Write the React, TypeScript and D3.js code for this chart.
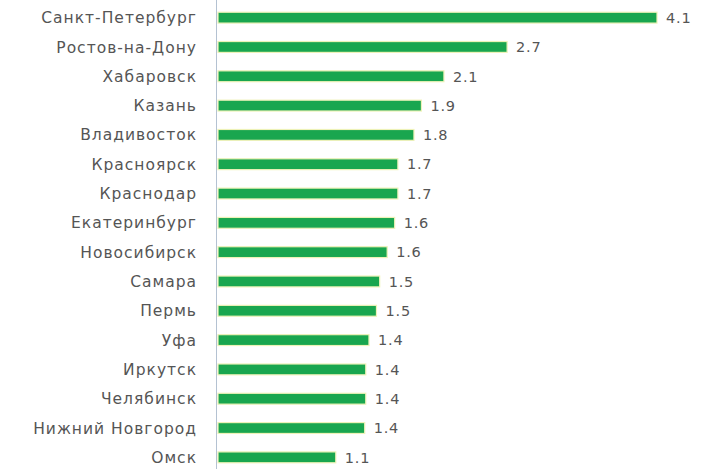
import React from 'react';
import * as d3 from 'd3';

const cities = [
  'Санкт-Петербург', 'Ростов-на-Дону', 'Хабаровск', 'Казань', 'Владивосток',
  'Красноярск', 'Краснодар', 'Екатеринбург', 'Новосибирск', 'Самара',
  'Пермь', 'Уфа', 'Иркутск', 'Челябинск', 'Нижний Новгород', 'Омск',
];
// bar lengths (labels show them rounded to one decimal)
const values = [4.1, 2.7, 2.11, 1.9, 1.83, 1.68, 1.68, 1.65, 1.58, 1.51, 1.48, 1.41, 1.38, 1.38, 1.37, 1.1];

const width = 715;
const height = 469;

const App = () => {
  const y = d3.scaleBand<string>()
    .domain(cities)
    .range([3, 472])
    .paddingInner(0.63)
    .paddingOuter(0.315);

  const x = d3.scaleLinear()
    .domain([0, 4.1])
    .range([218, 657]);

  const font = '"DejaVu Sans", "Liberation Sans", sans-serif';

  return (
    <svg width={width} height={height} style={{ position: 'absolute', left: 0, top: 0, background: '#fff' }}>
      <line x1={216.5} x2={216.5} y1={0} y2={height} stroke="#b4c2d2" strokeWidth={1} />
      {cities.map((c, i) => {
        const yy = y(c)!;
        const bw = y.bandwidth();
        const v = values[i];
        return (
          <g key={c}>
            <rect x={x(0)} y={yy} width={x(v) - x(0)} height={bw}
              fill="#19a64f" stroke="#eef2b8" strokeWidth={1.2} />
            <text x={197} y={yy + bw / 2} dy="0.36em" textAnchor="end"
              fontFamily={font} fontSize={15.5} fill="#555" letterSpacing={1}>{c}</text>
            <text x={x(v) + 9} y={yy + bw / 2} dy="0.36em" textAnchor="start"
              fontFamily={font} fontSize={14.5} fill="#555" letterSpacing={0.8}>{d3.format('.1f')(v)}</text>
          </g>
        );
      })}
    </svg>
  );
};

export default App;
